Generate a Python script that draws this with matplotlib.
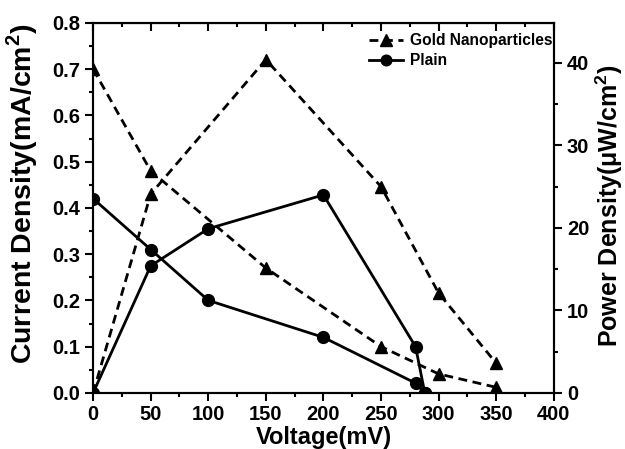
import numpy as np
import matplotlib
matplotlib.use('Agg')
import matplotlib.pyplot as plt
from matplotlib.ticker import MultipleLocator, FormatStrFormatter

plt.rcParams['font.family'] = ['Liberation Sans', 'DejaVu Sans']
plt.rcParams['font.weight'] = 'bold'
plt.rcParams['mathtext.fontset'] = 'custom'
plt.rcParams['mathtext.rm'] = 'Liberation Sans:bold'
plt.rcParams['mathtext.bf'] = 'Liberation Sans:bold'

# gold nanoparticles
gold_v_j = [0, 50, 150, 250, 300, 350]
gold_j = [0.70, 0.48, 0.27, 0.10, 0.041, 0.012]
gold_v_p = [0, 50, 150, 250, 300, 350]
gold_p = [0.0, 24.1, 40.4, 25.0, 12.1, 3.6]

# plain
plain_v_j = [0, 50, 100, 200, 280, 288]
plain_j = [0.42, 0.31, 0.20, 0.12, 0.021, 0.0]
plain_v_p = [0, 50, 100, 200, 280, 288]
plain_p = [0.0, 15.4, 19.9, 24.0, 5.6, 0.0]

fig = plt.figure(figsize=(6.25, 4.49), dpi=100)
ax = fig.add_axes([0.149, 0.125, 0.737, 0.824])
ax2 = ax.twinx()

lw = 2.0
dash = (0, (3.2, 2.0))
l1, = ax.plot(gold_v_j, gold_j, color='black', lw=lw, linestyle=dash, marker='^', markersize=9)
ax2.plot(gold_v_p, gold_p, color='black', lw=lw, linestyle=dash, marker='^', markersize=9)
l2, = ax.plot(plain_v_j, plain_j, color='black', lw=lw, linestyle='-', marker='o', markersize=8.5)
ax2.plot(plain_v_p, plain_p, color='black', lw=lw, linestyle='-', marker='o', markersize=8.5)

ax.set_xlim(0, 400)
ax.set_ylim(0, 0.8)
ax2.set_ylim(0, 44.85)

ax.xaxis.set_major_locator(MultipleLocator(50))
ax.xaxis.set_minor_locator(MultipleLocator(25))
ax.yaxis.set_major_locator(MultipleLocator(0.1))
ax.yaxis.set_minor_locator(MultipleLocator(0.05))
ax2.yaxis.set_major_locator(MultipleLocator(10))
ax2.yaxis.set_minor_locator(MultipleLocator(5))
ax.yaxis.set_major_formatter(FormatStrFormatter('%.1f'))

fs_tick = 14.5
ax.tick_params(axis='x', which='both', direction='out', labelsize=fs_tick, width=1.5, pad=3)
ax.tick_params(axis='x', which='major', length=6)
ax.tick_params(axis='x', which='minor', length=3)
ax.tick_params(axis='y', which='both', direction='out', labelsize=fs_tick, width=1.5)
ax.tick_params(axis='y', which='major', length=6)
ax.tick_params(axis='y', which='minor', length=3)
ax2.tick_params(axis='y', which='both', direction='out', labelsize=fs_tick, width=1.5)
ax2.tick_params(axis='y', which='major', length=6)
ax2.tick_params(axis='y', which='minor', length=3)
# mirrored ticks on top pointing inward
top = ax.secondary_xaxis('top')
top.xaxis.set_major_locator(MultipleLocator(50))
top.xaxis.set_minor_locator(MultipleLocator(25))
top.tick_params(which='both', direction='in', labeltop=False, width=1.5)
top.tick_params(which='major', length=6)
top.tick_params(which='minor', length=3)

for a in (ax, ax2):
    for s in a.spines.values():
        s.set_linewidth(1.5)

ax.set_xlabel('Voltage(mV)', fontsize=17, fontweight='bold', labelpad=1)
ax.set_ylabel(r'Current Density(mA/cm$^\mathbf{2}$)', fontsize=20.5, fontweight='bold')
ax.yaxis.set_label_coords(-0.115, 0.539)
ax2.set_ylabel('Power Density(\u03bcW/cm$^\\mathbf{2}$)', fontsize=18, fontweight='bold')
ax2.yaxis.set_label_coords(1.087, 0.505)

ax.legend([l1, l2], ['Gold Nanoparticles', 'Plain'], loc='upper right', frameon=False,
          bbox_to_anchor=(1.003, 0.981), borderaxespad=0.0, borderpad=0.2,
          prop={'size': 11.2, 'weight': 'bold'}, handlelength=2.2, handletextpad=0.4,
          labelspacing=0.35, markerscale=0.9)

fig.savefig('out.png', dpi=100)
